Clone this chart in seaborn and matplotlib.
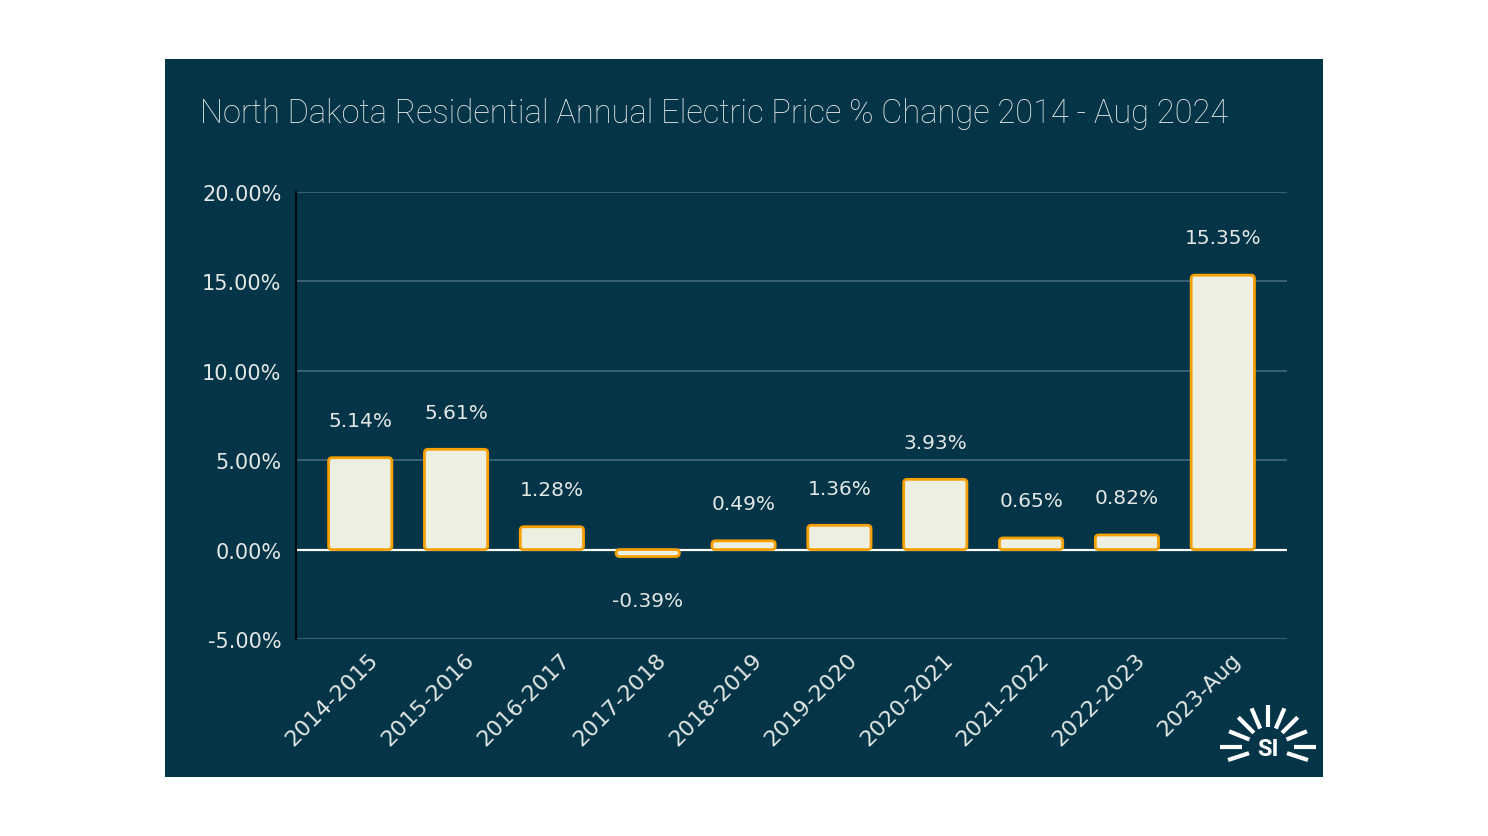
import numpy as np
import pandas as pd
import matplotlib
matplotlib.use("Agg")
import matplotlib.pyplot as plt
import matplotlib.transforms as mtransforms
import seaborn as sns
from matplotlib.patches import FancyBboxPatch, Rectangle
from matplotlib.lines import Line2D

periods = ["2014-2015", "2015-2016", "2016-2017", "2017-2018", "2018-2019",
           "2019-2020", "2020-2021", "2021-2022", "2022-2023", "2023-Aug"]
pct_change = [5.14, 5.61, 1.28, -0.39, 0.49, 1.36, 3.93, 0.65, 0.82, 15.35]
y_ticks = [-5, 0, 5, 10, 15, 20]
title = "North Dakota Residential Annual Electric Price % Change 2014 - Aug 2024"

BG = "#033447"
BAR = "#EDEFE0"
EDGE = "#F5A000"
TXT = "#E4E8E4"
GRID = "#3E6575"
LABEL_FONT = ["DejaVu Sans"]

sns.set_theme(style="white")
plt.rcParams["font.family"] = ["Roboto", "DejaVu Sans"]

fig = plt.figure(figsize=(14.88, 8.37), dpi=100)
fig.patch.set_facecolor("white")
W, H = 1488, 837
def fx(px): return px / W
def fy(py): return 1 - py / H

# dark panel
fig.patches.append(Rectangle((fx(165), fy(778)), fx(1323) - fx(165), fy(60) - fy(778),
                             transform=fig.transFigure, facecolor=BG, edgecolor="none", zorder=-5))

ax = fig.add_axes([fx(296), fy(640), fx(1287) - fx(296), fy(193) - fy(640)])
ax.set_facecolor(BG)
ax.set_zorder(2)

df = pd.DataFrame({"period": periods, "pct": pct_change})
sns.barplot(data=df, x="period", y="pct", color=BAR, width=0.66, ax=ax, zorder=3)

# replace with rounded bars
px_per_x = 95.9
px_per_y = 447 / 25
r_px = 3.5
for p in list(ax.patches):
    x, y = p.get_x(), p.get_y()
    w, h = p.get_width(), p.get_height()
    if h < 0:
        y, h = y + h, -h
    rs = r_px / px_per_x
    fb = FancyBboxPatch((x, y), w, h,
                        boxstyle=f"round,pad=0,rounding_size={rs}",
                        mutation_aspect=px_per_x / px_per_y,
                        facecolor=BAR, edgecolor=EDGE, linewidth=2, zorder=3)
    p.remove()
    ax.add_patch(fb)

ax.set_xlim(-0.67, 9.67)
ax.set_ylim(-5, 20)
ax.set_yticks(y_ticks)
ax.set_yticklabels([f"{v:.2f}%" for v in y_ticks])
ax.yaxis.grid(True, color=GRID, linewidth=1.3, zorder=0)
ax.axhline(0, color="white", linewidth=1.6, zorder=2)
ax.set_axisbelow(True)

for s in ["top", "right", "bottom"]:
    ax.spines[s].set_visible(False)
ax.spines["left"].set_color("#0a0a0a")
ax.spines["left"].set_linewidth(1.5)

ax.tick_params(axis="y", colors=TXT, labelsize=15, length=0, pad=10.5)
ax.tick_params(axis="x", colors=TXT, labelsize=16, length=0, pad=4)
for lab in ax.get_yticklabels():
    lab.set_family(LABEL_FONT)
offset = mtransforms.ScaledTranslation(8 / 100, -4 / 100, fig.dpi_scale_trans)
for lab in ax.get_xticklabels():
    lab.set_family(LABEL_FONT)
    lab.set_rotation(45)
    lab.set_ha("right")
    lab.set_rotation_mode("anchor")
    lab.set_transform(lab.get_transform() + offset)
ax.set_xlabel("")
ax.set_ylabel("")

for i, v in enumerate(pct_change):
    if v >= 0:
        ax.annotate(f"{v:.2f}%", (i, v), xytext=(0, 20), textcoords="offset points",
                    ha="center", va="bottom", color=TXT, fontsize=14.5, family=LABEL_FONT)
    else:
        ax.annotate(f"{v:.2f}%", (i, v), xytext=(0, -25), textcoords="offset points",
                    ha="center", va="top", color=TXT, fontsize=14.5, family=LABEL_FONT)

fig.text(fx(200), fy(114), title, color=TXT, fontsize=23.5, fontweight="light",
         ha="left", va="center")

# logo
cx, cy = 1268, 748
angles = [-18, 0, 22, 45, 67, 90, 113, 135, 158, 180, 198]
for a in angles:
    t = np.deg2rad(a)
    r0, r1 = 20, 42
    if a in (0, 180):
        r0, r1 = 26, 48
    xs = [fx(cx + r0 * np.cos(t)), fx(cx + r1 * np.cos(t))]
    ys = [fy(cy - r0 * np.sin(t)), fy(cy - r1 * np.sin(t))]
    fig.lines.append(Line2D(xs, ys, transform=fig.transFigure, color="white",
                            linewidth=3, solid_capstyle="butt"))
fig.text(fx(cx), fy(cy + 2), "SI", color="white", fontsize=17, fontweight="bold",
         ha="center", va="center")

fig.savefig("out.png", dpi=100, facecolor="white")
